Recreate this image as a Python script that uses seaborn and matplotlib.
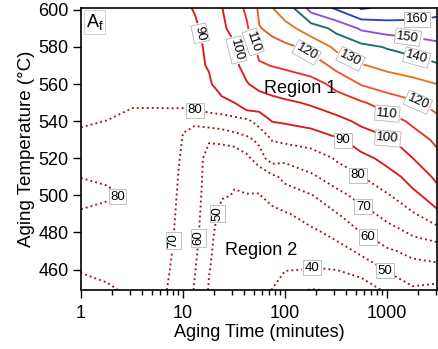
import numpy as np
import pandas as pd
import matplotlib
matplotlib.use("Agg")
import matplotlib.pyplot as plt
import matplotlib.ticker as mticker
import seaborn as sns

# ---- data: Af (degC) contour map ----
aging_time = [1, 1.8, 3.2, 5.6, 7.5, 10, 13, 18, 24, 32, 42, 56, 75, 100,
              180, 320, 560, 1000, 1800, 3100]          # minutes
aging_temp = [449, 460, 470, 480, 490, 500, 510, 520, 530, 540, 550, 560,
              570, 580, 590, 601]                        # degC

af_449 = [81, 80.85, 78.5, 72.5, 69, 66, 59.3, 49.3, 45.5, 44, 43, 41.5, 39.9, 33, 29.5, 31, 34.5, 42.1, 48.7, 47]
af_460 = [79.8, 78.5, 77, 73, 69.9, 66.5, 60.6, 50.35, 45.5, 44, 43, 41.5, 41.5, 40.5, 39.55, 40.1, 43.7, 51.5, 55.7, 56.7]
af_470 = [78.8, 77.5, 76.5, 73.5, 70.5, 66.8, 61.8, 51.3, 45.5, 44, 43, 42, 43, 43, 43.9, 46.4, 52.1, 58.65, 63, 65.2]
af_480 = [78.5, 77.5, 77, 74, 71, 67.15, 62.9, 52.3, 46, 44.5, 44, 43, 45, 46, 48.3, 52.9, 60.2, 66.2, 71.7, 75.3]
af_490 = [79.5, 78.3, 78, 74.5, 71.5, 67.4, 62.9, 54.5, 47, 46, 45.5, 45, 47.7, 49.3, 53.6, 59.5, 67.1, 73, 79.1, 87.7]
af_500 = [81.5, 80.8, 79, 75, 72, 67.7, 63, 55.9, 50.8, 49.6, 49.8, 49.7, 53, 55.3, 59.5, 67.3, 73.7, 79.1, 87.6, 96]
af_510 = [79.9, 79.3, 77.3, 75, 72.5, 68.15, 63.3, 56.5, 54, 50.8, 52, 52.5, 57.8, 62.8, 68.8, 74.4, 80.1, 86.2, 94.2, 102.2]
af_520 = [78.8, 78, 77, 75.5, 73.5, 68.6, 63.5, 57, 55.5, 51.5, 57.5, 66.1, 75.1, 72.5, 74.5, 81.2, 87.5, 93.1, 100, 107.1]
af_530 = [79.4, 78.5, 77.5, 76.5, 75.5, 69.5, 66, 60.7, 61.5, 65.3, 68, 72, 80.4, 82, 85, 89, 94.9, 99.35, 105.8, 112.2]
af_540 = [80.3, 79.95, 78.8, 78.5, 78.4, 70.9, 71.4, 74.9, 76.5, 76.85, 77.6, 84, 90.3, 91.3, 93.3, 97.5, 102.1, 106.4, 111.9, 117.6]
af_550 = [81, 81, 80.5, 80.6, 80.7, 83.8, 85.9, 85.9, 86, 90.1, 98.6, 95.9, 98, 98.5, 101.4, 105, 109.1, 115, 119.1, 123.6]
af_560 = [81.7, 82, 82, 82.5, 83, 85.5, 86.8, 88.15, 97.5, 97.5, 99.5, 102.5, 103.4, 106.6, 106.5, 113.1, 120.7, 124.4, 127, 130]
af_570 = [82.5, 83, 83.3, 84, 84.8, 86.7, 87.5, 91, 98.3, 98.8, 102.3, 109, 110.3, 111, 115.2, 123.1, 129.4, 132.7, 135.4, 138.8]
af_580 = [83.5, 84, 84.5, 85.3, 86.2, 87.5, 88.3, 91.5, 98.6, 99.4, 105, 113, 117.4, 117.8, 123.5, 132.4, 137.4, 140.8, 144.9, 147.6]
af_590 = [84.5, 85, 85.5, 86.3, 87.3, 88.2, 89, 92.5, 99, 102, 108.6, 119.6, 122, 127.2, 135.1, 143, 151.5, 154.8, 155.2, 155.4]
af_601 = [85, 85.5, 86, 87, 88, 89, 90.4, 94, 99.7, 106, 111.7, 121.8, 129.8, 134.6, 154.3, 161.5, 170.8, 168, 166.6, 163.5]

levels = [30, 40, 50, 60, 70, 80, 90, 100, 110, 120, 130, 140, 150, 160, 170]
x_ticks = [1, 10, 100, 1000]
y_ticks = [460, 480, 500, 520, 540, 560, 580, 600]

# ---- styling / layout ----
dot_col = "#8e1b1b"
level_colors = {30: dot_col, 40: dot_col, 50: dot_col, 60: dot_col, 70: dot_col,
                80: dot_col, 90: "#d81b1b", 100: "#dd1c1c", 110: "#e7321f",
                120: "#ec5a22", 130: "#e2761f", 140: "#1c6b6d", 150: "#9150d4",
                160: "#2442c4", 170: "#0c0c6a"}
label_anchor = {
    90: [(15.4, 587.6), (370, 529.7)],
    100: [(33.8, 578.4), (1023, 530.8)],
    110: [(48.6, 582.7), (1023, 544.9)],
    120: [(164, 577.3), (2014, 550.3)],
    130: [(434, 573)],
    140: [(1968, 574.6)],
    150: [(1607, 585.4)],
    160: [(1968, 594.6)],
    80: [(13.1, 545.9), (2.25, 500), (520, 510.8)],
    70: [(7.98, 475.7), (582, 493.5)],
    60: [(13.7, 477.3), (651, 477.3)],
    50: [(21.5, 490.3), (955, 459.5)],
    40: [(184, 461)],
}
# None keeps the angle of the line
label_rotation = {
    90: [None, 0], 100: [None, -5], 110: [None, -5], 120: [None, None],
    130: [None], 140: [None], 150: [-8], 160: [0],
    80: [0, 0, 0], 70: [90, 0], 60: [90, 0], 50: [90, 0], 40: [0],
}

sns.set_theme(style="ticks")
plt.rcParams['font.family'] = ['Liberation Sans', 'DejaVu Sans']
plt.rcParams['mathtext.fontset'] = 'custom'
plt.rcParams['mathtext.rm'] = 'Liberation Sans'
plt.rcParams['text.color'] = 'black'
plt.rcParams['axes.labelcolor'] = 'black'
plt.rcParams['xtick.color'] = 'black'
plt.rcParams['ytick.color'] = 'black'

grid = pd.DataFrame([af_449, af_460, af_470, af_480, af_490, af_500, af_510, af_520,
                     af_530, af_540, af_550, af_560, af_570, af_580, af_590, af_601],
                    index=aging_temp, columns=aging_time)

fig = plt.figure(figsize=(4.39, 3.49), dpi=100)
ax = fig.add_axes([81/439, 1 - 290/349, (437 - 81)/439, (290 - 8)/349])
ax.set_xscale('log')
ax.set_xlim(1, 3100)
ax.set_ylim(449, 601)

for lev in levels:
    cs = ax.contour(grid.columns.values, grid.index.values, grid.values,
                    levels=[lev], colors=[level_colors[lev]],
                    linestyles=[':' if lev < 90 else '-'],
                    linewidths=1.35)
    if lev in label_anchor:
        txts = cs.clabel(manual=label_anchor[lev], inline=True, inline_spacing=3,
                         fmt='%d', fontsize=9.5, colors='black')
        for t, rot in zip(txts, label_rotation[lev]):
            if rot is not None:
                t.set_rotation(rot)
            t.set_bbox(dict(boxstyle='square,pad=0.12', fc='white',
                            ec='#b5b5b5', lw=0.6))

ax.text(140, 557.8, 'Region 1', ha='center', va='center', fontsize=13)
ax.text(58, 470.3, 'Region 2', ha='center', va='center', fontsize=13)
ax.text(0.013, 0.985, r'$\mathregular{A_f}$', transform=ax.transAxes,
        ha='left', va='top', fontsize=13,
        bbox=dict(boxstyle='square,pad=0.1', fc='white', ec='#cccccc', lw=0.6))

ax.set_xticks(x_ticks)
ax.xaxis.set_major_formatter(mticker.FuncFormatter(lambda v, p: f"{v:g}"))
ax.xaxis.set_minor_locator(mticker.LogLocator(base=10, subs=np.arange(2, 10)))
ax.xaxis.set_minor_formatter(mticker.NullFormatter())
ax.set_yticks(y_ticks)

ax.tick_params(axis='both', which='major', direction='out', length=6, width=1,
               labelsize=13, pad=3)
ax.tick_params(axis='x', which='minor', direction='out', length=3.5, width=1)
ax.tick_params(axis='x', which='major', pad=5)
for s in ax.spines.values():
    s.set_linewidth(1.2)
    s.set_color('black')
    s.set_visible(True)

ax.set_xlabel('Aging Time (minutes)', fontsize=13, labelpad=1)
ax.set_ylabel('Aging Temperature (°C)', fontsize=13.5, labelpad=2)

fig.savefig('out.png', dpi=100)
